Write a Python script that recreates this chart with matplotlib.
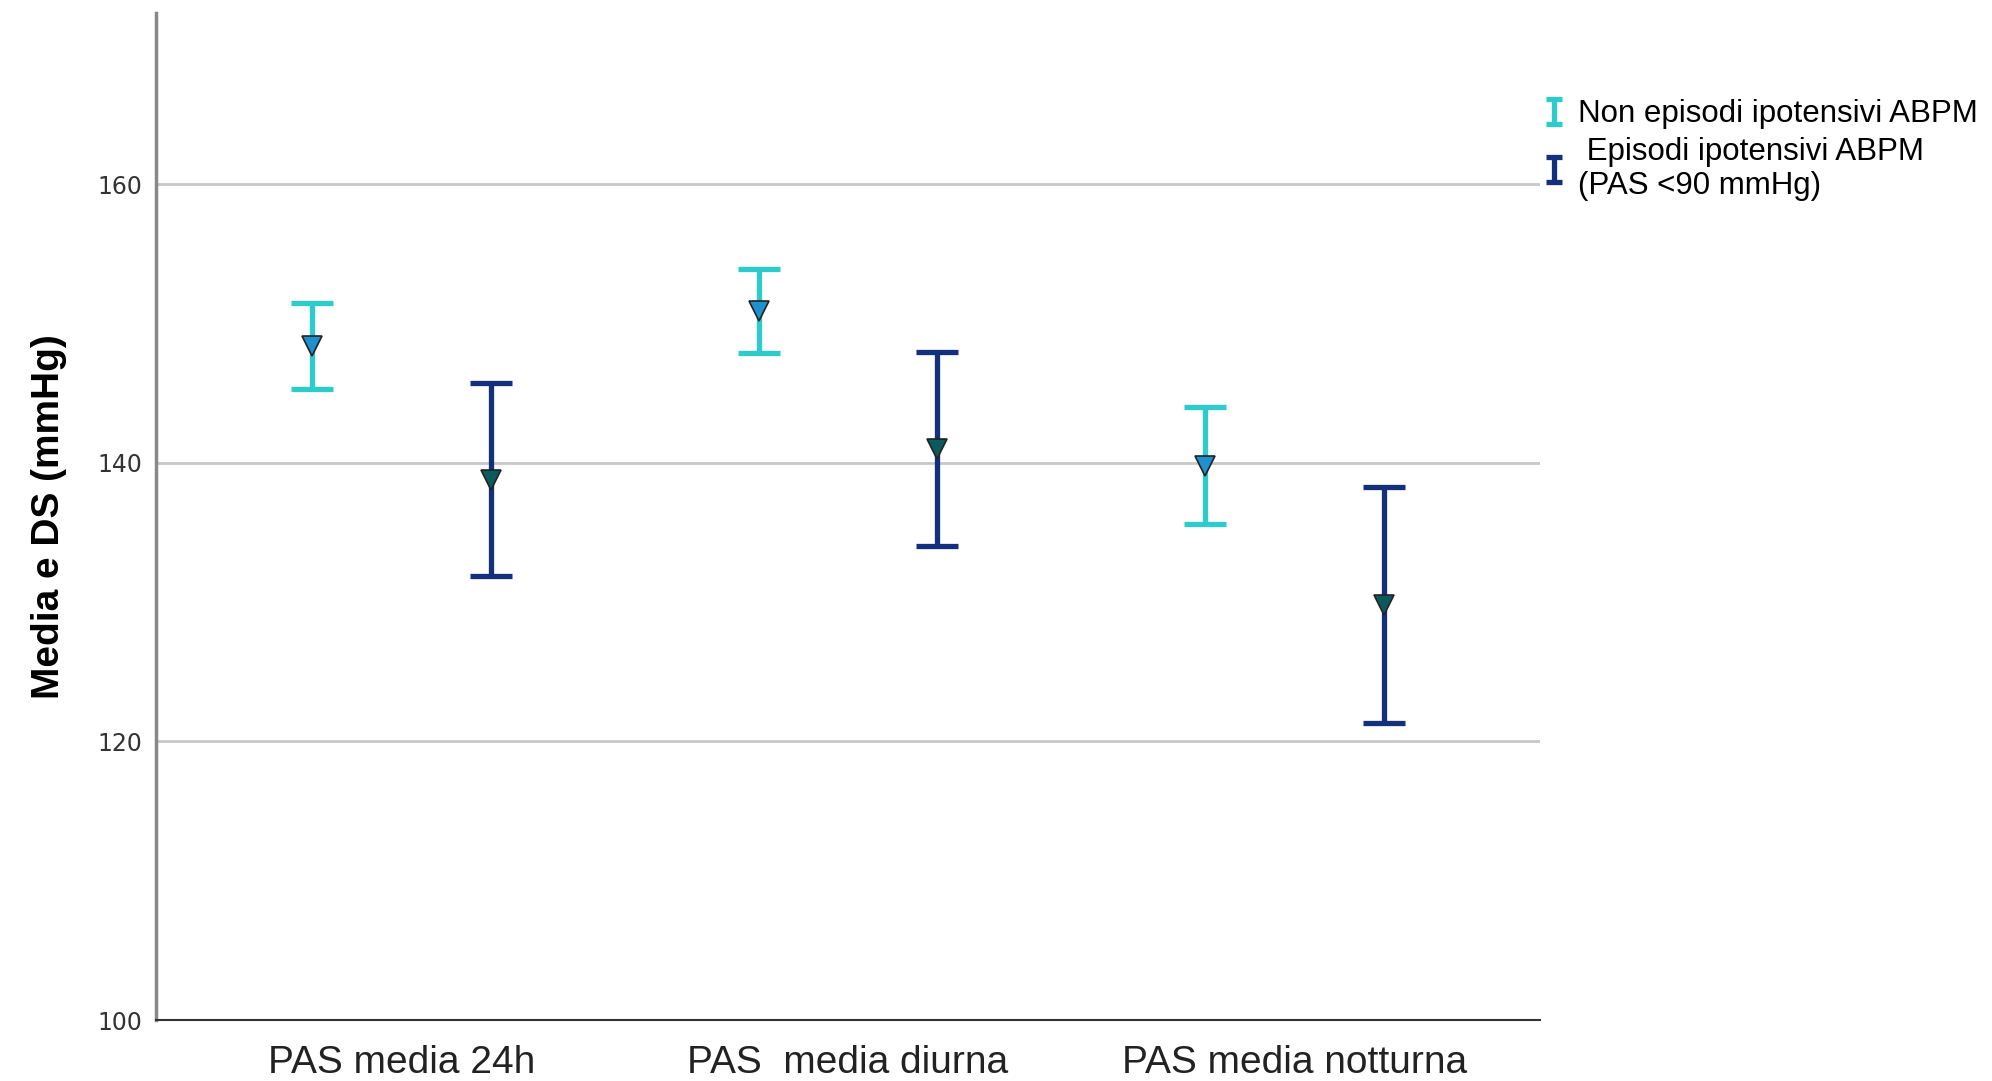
import matplotlib.pyplot as plt
import numpy as np
from matplotlib.legend_handler import HandlerErrorbar

categories = ['PAS media 24h', 'PAS  media diurna', 'PAS media notturna']
series_names = ['Non episodi ipotensivi ABPM', ' Episodi ipotensivi ABPM\n(PAS <90 mmHg)']
means_non = [148.4, 150.9, 139.8]
sd_non = [3.1, 3.0, 4.2]
means_epi = [138.8, 141.0, 129.8]
sd_epi = [6.95, 6.95, 8.45]
yticks = [100, 120, 140, 160]

c_non = '#2ccccc'
c_epi = '#142f7c'

plt.rcParams['font.family'] = ['Liberation Sans', 'DejaVu Sans']

fig = plt.figure(figsize=(19.92, 10.81), dpi=100)
ax = fig.add_axes([0.0783, 0.0564, 0.6947, 0.9316])

x = np.arange(len(categories))
off = 0.2

for y in yticks[1:]:
    ax.axhline(y, color='#c8c8c8', lw=2, zorder=0)

ax.errorbar(x - off, means_non, yerr=sd_non, fmt='none', ecolor=c_non,
            elinewidth=3.8, capsize=15, capthick=3.8)
ax.errorbar(x + off, means_epi, yerr=sd_epi, fmt='none', ecolor=c_epi,
            elinewidth=3.8, capsize=15, capthick=3.8)
ax.plot(x - off, means_non, 'v', ms=15, mfc='#1e90d0', mec='#222222', mew=1.2, ls='none', zorder=3)
ax.plot(x + off, means_epi, 'v', ms=15, mfc='#0d5a5e', mec='#222222', mew=1.2, ls='none', zorder=3)

# small proxy handles for the legend
h1 = ax.errorbar([np.nan], [np.nan], yerr=[1], fmt='none', ecolor=c_non,
                 elinewidth=3.8, capsize=5.5, capthick=3.8)
h2 = ax.errorbar([np.nan], [np.nan], yerr=[1], fmt='none', ecolor=c_epi,
                 elinewidth=3.8, capsize=5.5, capthick=3.8)

ax.set_xlim(-0.55, 2.55)
ax.set_ylim(100, 172.3)
ax.set_xticks(x)
ax.set_xticklabels(categories, fontsize=28, color='#222222')
ax.set_yticks(yticks)
ax.set_yticklabels([str(t) for t in yticks], fontsize=17, color='#333333', family='DejaVu Sans')
ax.tick_params(axis='y', length=0, pad=10)
ax.tick_params(axis='x', length=0, pad=18)

ax.spines['top'].set_visible(False)
ax.spines['right'].set_visible(False)
ax.spines['left'].set_color('#888888')
ax.spines['left'].set_linewidth(2.5)
ax.spines['bottom'].set_color('#333333')
ax.spines['bottom'].set_linewidth(1.5)

ax.set_ylabel('Media e DS (mmHg)', fontsize=28, fontweight='bold', labelpad=22)

fig.legend(handles=[h1, h2], labels=series_names, loc='upper left',
           bbox_to_anchor=(0.770, 0.92), bbox_transform=fig.transFigure,
           frameon=False, fontsize=22.5, handlelength=0.5, handletextpad=0.5,
           labelspacing=0.25, borderaxespad=0,
           handler_map={type(h1): HandlerErrorbar(yerr_size=0.4)})

fig.savefig('out.png', dpi=100)
